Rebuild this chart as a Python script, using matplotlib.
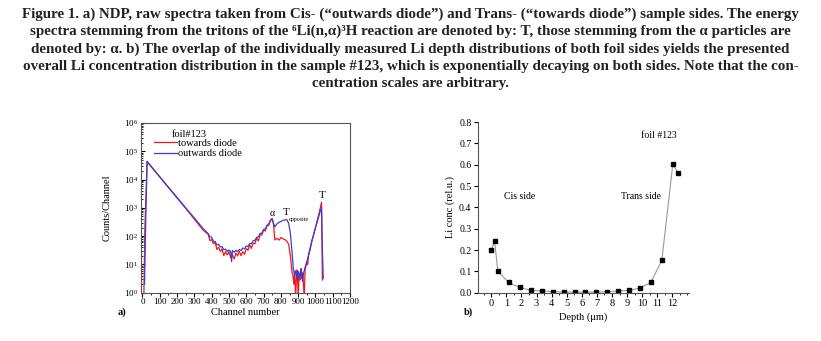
import numpy as np
import matplotlib.pyplot as plt
from matplotlib.ticker import LogLocator, MultipleLocator, NullFormatter

plt.rcParams['font.family'] = ['Liberation Serif', 'DejaVu Serif']

# a) NDP spectra: channel number and log10(counts/channel)
towards_ch = [8, 14, 27, 50, 100, 150, 200, 250, 300, 350,
              380, 390, 400, 410, 420, 430, 440, 450, 460, 470, 480, 490, 500, 510,
              520, 530, 540, 550, 560, 570, 580, 590, 600, 610, 620, 630, 640, 650,
              660, 670, 680, 690, 700, 710, 720, 730, 740, 750, 758, 765, 780, 790,
              800, 815, 830, 845, 855, 865,
              870, 875, 880, 885, 890, 895, 900, 905, 910, 915, 920, 925, 930, 935,
              940, 945, 950, 955, 960, 970, 980, 990, 1000, 1010, 1020, 1028, 1035, 1040]
towards_log = [-0.2, 2.3, 4.64, 4.46, 4.09, 3.72, 3.35, 2.98, 2.6, 2.22,
               2.06, 1.84, 1.88, 1.73, 1.79, 1.53, 1.61, 1.46, 1.55, 1.31, 1.45, 1.34, 1.45, 1.24,
               1.34, 1.19, 1.40, 1.30, 1.46, 1.31, 1.45, 1.36, 1.56, 1.50, 1.68, 1.57, 1.76, 1.73,
               1.93, 1.83, 2.05, 2.04, 2.22, 2.18, 2.37, 2.38, 2.57, 2.63, 2.4, 1.87, 1.92, 1.86,
               1.95, 1.9, 1.85, 1.72, 1.3, 0.7,
               0.6, 0.3, 0.75, -0.2, 0.55, 0.8, -0.2, 0.6, 0.45, 0.85, 0.5, 0.7, 0.35, -0.2,
               0.8, 0.95, 1.1, 1.0, 1.3, 1.55, 1.85, 2.05, 2.3, 2.55, 2.8, 3.0, 3.2, 0.45]

outwards_ch = [12, 20, 27, 50, 100, 150, 200, 250, 300, 350,
               380, 390, 400, 410, 420, 430, 440, 450, 460, 470, 480, 490, 500, 510, 515,
               520, 530, 540, 550, 560, 570, 580, 590, 600, 610, 620, 630, 640, 650,
               660, 670, 680, 690, 700, 710, 720, 730, 740, 750, 758, 764, 780, 800,
               820, 835, 845, 855, 865,
               872, 880, 888, 895, 902, 910, 918, 925, 932, 940, 948, 955, 962,
               970, 980, 990, 1000, 1010, 1020, 1028, 1035, 1040, 1045]
outwards_log = [0.3, 2.9, 4.64, 4.47, 4.1, 3.73, 3.37, 3.0, 2.64, 2.27,
                2.09, 1.97, 1.96, 1.82, 1.81, 1.69, 1.71, 1.62, 1.63, 1.52, 1.54, 1.46, 1.51, 1.45, 1.1,
                1.49, 1.43, 1.5, 1.45, 1.53, 1.49, 1.58, 1.55, 1.65, 1.63, 1.74, 1.73, 1.84, 1.85,
                1.96, 1.97, 2.09, 2.11, 2.23, 2.26, 2.38, 2.44, 2.55, 2.6, 2.45, 2.33, 2.45, 2.52,
                2.57, 2.58, 2.45, 2.1, 1.4,
                0.85, 0.6, 0.8, 0.45, 0.75, 0.55, 0.85, 0.4, 0.7, 0.9, 1.05, 1.2, 1.4,
                1.6, 1.85, 2.08, 2.3, 2.5, 2.72, 2.88, 3.0, 1.5, 0.5]

# b) Li depth profile
depth = [0.0, 0.22, 0.44, 1.15, 1.88, 2.63, 3.33, 4.08, 4.79, 5.52,
         6.24, 6.97, 7.68, 8.40, 9.13, 9.84, 10.57, 11.30, 12.03, 12.36]
li_conc = [0.2, 0.242, 0.1, 0.048, 0.025, 0.011, 0.008, 0.005, 0.003, 0.003,
           0.003, 0.003, 0.005, 0.008, 0.011, 0.022, 0.048, 0.152, 0.603, 0.5625]

caption = [
    'Figure 1. a) NDP, raw spectra taken from Cis- (\u201coutwards diode\u201d) and Trans- (\u201ctowards diode\u201d) sample sides. The energy',
    'spectra stemming from the tritons of the \u2076Li(n,\u03b1)\u00b3H reaction are denoted by: T, those stemming from the \u03b1 particles are',
    'denoted by: \u03b1. b) The overlap of the individually measured Li depth distributions of both foil sides yields the presented',
    'overall Li concentration distribution in the sample #123, which is exponentially decaying on both sides. Note that the con-',
    'centration scales are arbitrary.',
]

fig = plt.figure(figsize=(8.21, 3.41), dpi=100)

for i, line in enumerate(caption):
    fig.text(0.5, 1 - (14 + 17.5 * i) / 341, line, ha='center', va='center',
             fontsize=10.8, fontweight='bold', color='#222222')

# ---- a) spectra ----
ax1 = fig.add_axes([0.1714, 0.1416, 0.255, 0.4977])
ax1.plot(towards_ch, 10 ** np.array(towards_log), color='#f01818', lw=0.9, label='towards diode')
ax1.plot(outwards_ch, 10 ** np.array(outwards_log), color='#3c3cd2', lw=0.9, label='outwards diode')
ax1.set_yscale('log')
ax1.set_xlim(-10, 1200)
ax1.set_ylim(1, 1e6)
ax1.xaxis.set_major_locator(MultipleLocator(100))
ax1.xaxis.set_minor_locator(MultipleLocator(50))
ax1.yaxis.set_major_locator(LogLocator(base=10, numticks=10))
ax1.yaxis.set_minor_locator(LogLocator(base=10, subs=np.arange(2, 10), numticks=10))
ax1.yaxis.set_minor_formatter(NullFormatter())
ax1.tick_params(axis='x', which='both', direction='out', labelsize=6.5, pad=1)
ax1.tick_params(axis='x', which='major', length=3)
ax1.tick_params(axis='x', which='minor', length=1.5)
ax1.tick_params(axis='y', which='both', direction='in', labelsize=6.5, pad=2)
ax1.tick_params(axis='y', which='major', length=3)
ax1.tick_params(axis='y', which='minor', length=1.5)
for s in ax1.spines.values():
    s.set_color('#555555')
    s.set_linewidth(0.8)
ax1.set_xlabel('Channel number', fontsize=7.5, labelpad=1)
ax1.set_ylabel('Counts/Channel', fontsize=7.5, labelpad=9)
ax1.text(0.15, 0.935, 'foil#123', transform=ax1.transAxes, fontsize=7.5, va='center')
ax1.legend(loc='upper left', bbox_to_anchor=(0.03, 0.95), frameon=False, fontsize=7.5,
           handlelength=2.2, handletextpad=0.1, labelspacing=0.1, borderpad=0.2)
ax1.text(749, 10 ** 2.8, '\u03b1', fontsize=7, ha='center', va='center')
ax1.text(832, 10 ** 2.83, 'T', fontsize=8, ha='center', va='center')
ax1.text(848, 10 ** 2.58, 'opposite', fontsize=4.2, ha='left', va='center')
ax1.text(1036, 10 ** 3.42, 'T', fontsize=8, ha='center', va='center')
fig.text(122 / 821, 1 - 312 / 341, 'a)', fontsize=7.5, fontweight='bold', ha='center', va='center')

# ---- b) Li depth profile ----
ax2 = fig.add_axes([0.5818, 0.1416, 0.2574, 0.5006])
ax2.plot(depth, li_conc, color='#999999', lw=0.8, marker='s', markersize=3.2,
         markerfacecolor='black', markeredgecolor='black')
ax2.set_xlim(-0.9, 13.1)
ax2.set_ylim(0, 0.8)
ax2.set_xticks(range(0, 13))
ax2.xaxis.set_minor_locator(MultipleLocator(0.5))
ax2.yaxis.set_major_locator(MultipleLocator(0.1))
ax2.yaxis.set_major_formatter(plt.FuncFormatter(lambda v, p: f'{v:.1f}'))
ax2.tick_params(axis='both', which='both', direction='out', pad=1.5)
ax2.tick_params(axis='x', labelsize=7.5)
ax2.tick_params(axis='y', labelsize=7)
ax2.tick_params(which='major', length=3)
ax2.tick_params(which='minor', length=1.5)
ax2.spines['top'].set_visible(False)
ax2.spines['right'].set_visible(False)
for s in ('left', 'bottom'):
    ax2.spines[s].set_color('#555555')
    ax2.spines[s].set_linewidth(0.8)
ax2.set_xlabel('Depth (\u03bcm)', fontsize=7.5, labelpad=3)
ax2.set_ylabel('Li conc (rel.u.)', fontsize=7.5, labelpad=3)
ax2.text(12.3, 0.735, 'foil #123', fontsize=7, ha='right', va='center')
ax2.text(1.9, 0.45, 'Cis side', fontsize=7, ha='center', va='center')
ax2.text(9.9, 0.45, 'Trans side', fontsize=7, ha='center', va='center')
fig.text(468 / 821, 1 - 312 / 341, 'b)', fontsize=7.5, fontweight='bold', ha='center', va='center')

fig.savefig('out.png', dpi=100)
